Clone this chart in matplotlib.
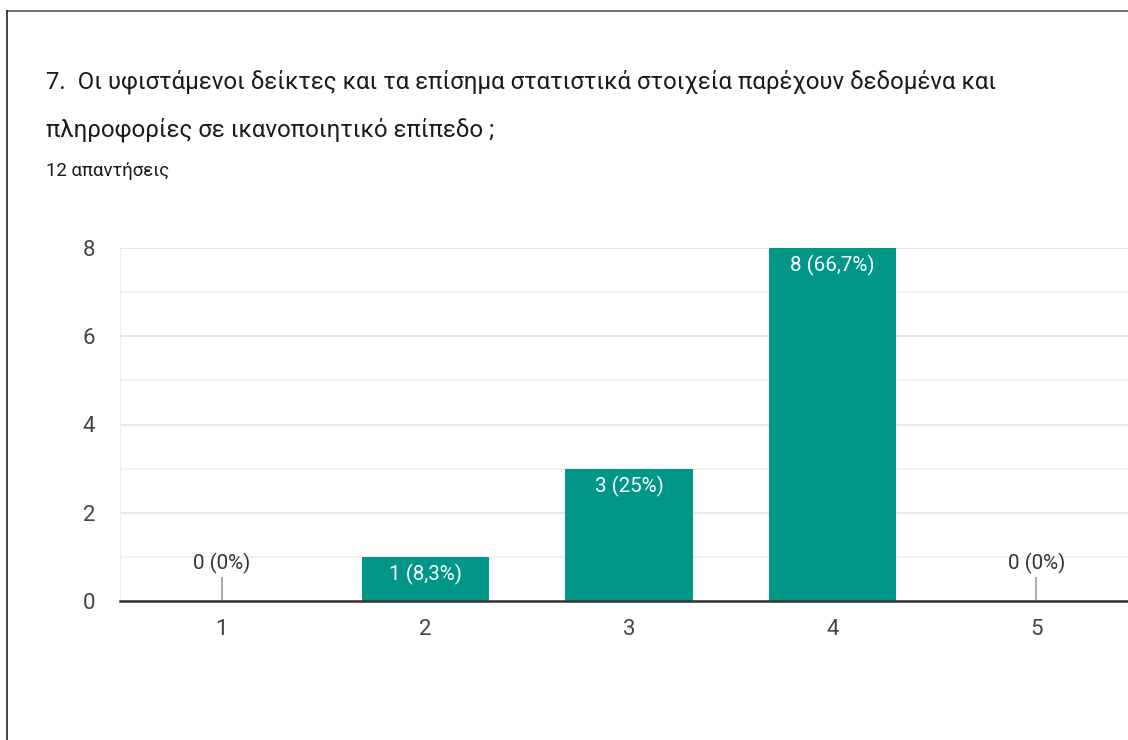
import matplotlib
matplotlib.use("Agg")
import matplotlib.pyplot as plt
from matplotlib.lines import Line2D

plt.rcParams['font.family'] = ['Roboto', 'DejaVu Sans']

# Δεδομένα
categories = ['1', '2', '3', '4', '5']
counts = [0, 1, 3, 8, 0]
labels = ['0 (0%)', '1 (8,3%)', '3 (25%)', '8 (66,7%)', '0 (0%)']

title_l1 = '7.  Οι υφιστάμενοι δείκτες και τα επίσημα στατιστικά στοιχεία παρέχουν δεδομένα και'
title_l2 = 'πληροφορίες σε ικανοποιητικό επίπεδο ;'
subtitle = '12 απαντήσεις'

W, H = 1128, 740
fig = plt.figure(figsize=(W / 100, H / 100), dpi=100)
fig.patch.set_facecolor('white')

# Περίγραμμα (πάνω και αριστερά)
fig.add_artist(Line2D([7 / W, 1], [1 - 11 / H, 1 - 11 / H], color='#555555', lw=1.2))
fig.add_artist(Line2D([7 / W, 7 / W], [0, 1 - 11 / H], color='#222222', lw=1.2))

# Τίτλοι
fig.text(46 / W, 1 - 82 / H, title_l1, fontsize=17.3, color='#1a1a1a', va='center', ha='left')
fig.text(46 / W, 1 - 130 / H, title_l2, fontsize=17.3, color='#1a1a1a', va='center', ha='left')
fig.text(46 / W, 1 - 171 / H, subtitle, fontsize=13.4, color='#1a1a1a', va='center', ha='left')

# Άξονες
left, right = 120 / W, 1138 / W
bottom, top = 1 - 601 / H, 1 - 248 / H
ax = fig.add_axes([left, bottom, right - left, top - bottom])

x = list(range(len(categories)))
ax.bar(x, counts, width=0.624, color='#009688', zorder=3)

ax.set_xlim(-0.5, len(categories) - 0.5)
ax.set_ylim(0, 8)
ax.set_yticks([0, 2, 4, 6, 8])
ax.set_yticks([1, 3, 5, 7], minor=True)
ax.set_xticks(x)
ax.set_xticklabels(categories)

ax.grid(axis='y', which='major', color='#e8e8e8', lw=1.5, zorder=0)
ax.grid(axis='y', which='minor', color='#f2f2f2', lw=1.5, zorder=0)
ax.tick_params(axis='both', which='both', length=0, labelsize=16, colors='#444444')
ax.tick_params(axis='y', pad=18)
ax.tick_params(axis='x', pad=13)

for s in ['top', 'right']:
    ax.spines[s].set_visible(False)
ax.spines['left'].set_color('#eeeeee')
ax.spines['bottom'].set_color('#333333')
ax.spines['bottom'].set_linewidth(1.8)
ax.spines['bottom'].set_zorder(4)

# Ετικέτες τιμών
for xi, c, lab in zip(x, counts, labels):
    if c == 0:
        ax.vlines(xi, 0, 0.55, color='#999999', lw=1.2, zorder=4)
        ax.annotate(lab, (xi, 0.55), xytext=(0, 2), textcoords='offset points',
                    ha='center', va='bottom', fontsize=14.8, color='#333333')
    else:
        ax.annotate(lab, (xi, c), xytext=(0, -5), textcoords='offset points',
                    ha='center', va='top', fontsize=14.8, color='white')

fig.savefig('out.png', dpi=100, facecolor='white')
